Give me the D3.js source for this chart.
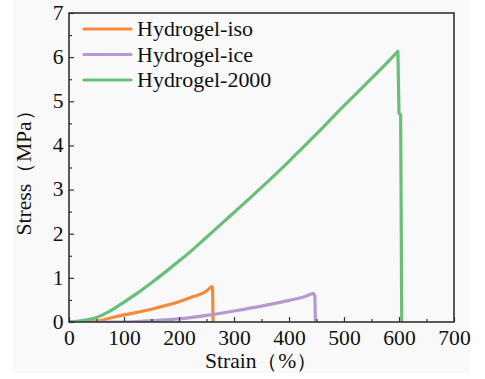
<!DOCTYPE html>
<html><head><meta charset="utf-8">
<script src="https://cdn.jsdelivr.net/npm/d3@7"></script>
<style>body{margin:0;background:#fff}svg{display:block}</style>
</head><body>
<svg id="c" width="485" height="379"></svg>
<script>
const seriesNames = ["Hydrogel-iso", "Hydrogel-ice", "Hydrogel-2000"];
const seriesColors = ["#f58b3a", "#b59ad2", "#6abf78"];
const isoStrain = [0, 50, 75, 100, 125, 150, 175, 200, 225, 250, 259, 261, 262];
const isoStress = [0, 0.02, 0.09, 0.16, 0.22, 0.29, 0.37, 0.46, 0.57, 0.7, 0.8, 0.78, 0];
const iceStrain = [0, 100, 150, 200, 250, 300, 350, 400, 425, 444, 447, 448];
const iceStress = [0, 0, 0.03, 0.07, 0.15, 0.25, 0.36, 0.49, 0.56, 0.65, 0.6, 0];
const g2000Strain = [0, 25, 50, 75, 100, 125, 150, 175, 200, 225, 250, 275, 300, 325, 350, 375, 400, 425, 450, 475, 500, 525, 550, 575, 598, 600, 603, 605];
const g2000Stress = [0, 0.03, 0.1, 0.25, 0.45, 0.66, 0.89, 1.13, 1.38, 1.64, 1.92, 2.2, 2.48, 2.76, 3.05, 3.34, 3.64, 3.95, 4.26, 4.58, 4.9, 5.21, 5.52, 5.83, 6.13, 4.73, 4.7, 0];
const xTicks = [0, 100, 200, 300, 400, 500, 600, 700];
const yTicks = [0, 1, 2, 3, 4, 5, 6, 7];
const xLabel = "Strain（%）";
const yLabel = "Stress（MPa）";

const svg = d3.select("#c");
const m = {l: 69, r: 454, t: 13, b: 322};
const x = d3.scaleLinear().domain([0, 700]).range([m.l, m.r]);
const y = d3.scaleLinear().domain([0, 7]).range([m.b, m.t]);
const axisColor = "#333";
const FONT = "Liberation Serif";
const fs = 20;
const sx = 1.08;

svg.append("rect").attr("x", 13).attr("y", 0).attr("width", 457).attr("height", 373).attr("fill", "#f9f9f9");

const series = [
  {name: seriesNames[0], color: seriesColors[0], xs: isoStrain, ys: isoStress},
  {name: seriesNames[1], color: seriesColors[1], xs: iceStrain, ys: iceStress},
  {name: seriesNames[2], color: seriesColors[2], xs: g2000Strain, ys: g2000Stress}
];
const smooth = d3.line().x(d => x(d[0])).y(d => y(d[1])).curve(d3.curveMonotoneX);
const straight = d3.line().x(d => x(d[0])).y(d => y(d[1]));
svg.append("clipPath").attr("id","clp").append("rect")
  .attr("x", m.l).attr("y", m.t - 5).attr("width", m.r - m.l).attr("height", m.b - m.t + 5);
const g = svg.append("g").attr("clip-path", "url(#clp)");
series.forEach(s => {
  const pts = s.xs.map((v, i) => [v, s.ys[i]]);
  const pk = d3.maxIndex(pts, d => d[1]);
  const rise = pts.slice(0, pk + 1);
  const drop = pts.slice(pk);
  const d = smooth(rise) + straight(drop).replace(/^M/, "L");
  g.append("path").attr("d", d).attr("fill", "none")
    .attr("stroke", s.color).attr("stroke-width", 3.2).attr("stroke-linejoin", "round").attr("stroke-linecap","round");
});

const xAxis = d3.axisBottom(x).tickValues(xTicks).tickSize(-5).tickPadding(9).tickFormat(d3.format("d"));
const xMinor = d3.axisBottom(x).tickValues(d3.range(50, 700, 100)).tickSize(-3).tickFormat("");
const yAxis = d3.axisLeft(y).tickValues(yTicks).tickSize(-5).tickPadding(5).tickFormat(d3.format("d"));
const yMinor = d3.axisLeft(y).tickValues(d3.range(0.5, 7, 1)).tickSize(-3).tickFormat("");

function style(sel){
  sel.select(".domain").remove();
  sel.attr("font-family", FONT).attr("font-size", fs);
  sel.selectAll("line").attr("stroke", axisColor).attr("stroke-width", 1.2);
  sel.selectAll("text").attr("fill", "#111").attr("transform", `scale(${sx},1)`);
}
svg.append("g").attr("transform", `translate(0,${m.b})`).call(xAxis).call(style);
svg.append("g").attr("transform", `translate(0,${m.b})`).call(xMinor).call(style);
svg.append("g").attr("transform", `translate(${m.l},0)`).call(yAxis).call(style);
svg.append("g").attr("transform", `translate(${m.l},0)`).call(yMinor).call(style);

svg.append("rect").attr("x", m.l).attr("y", m.t).attr("width", m.r - m.l).attr("height", m.b - m.t)
  .attr("fill", "none").attr("stroke", axisColor).attr("stroke-width", 1.6);

svg.append("text").attr("transform", `translate(${(m.l + m.r) / 2},368) scale(${sx},1)`).attr("text-anchor", "middle")
  .attr("font-family", FONT).attr("font-size", fs).attr("fill", "#111").text(xLabel);
svg.append("text").attr("transform", `translate(31,${(m.t + m.b) / 2}) rotate(-90) scale(${sx},1)`).attr("text-anchor", "middle")
  .attr("font-family", FONT).attr("font-size", fs).attr("fill", "#111").text(yLabel);

const lg = svg.append("g");
series.forEach((s, i) => {
  const yy = 29 + i * 25.5;
  lg.append("line").attr("x1", 84).attr("x2", 131).attr("y1", yy).attr("y2", yy)
    .attr("stroke", s.color).attr("stroke-width", 3.2).attr("stroke-linecap","round");
  lg.append("text").attr("transform", `translate(137,${yy}) scale(1.1,1)`).attr("dy", "0.35em")
    .attr("font-family", FONT).attr("font-size", fs).attr("fill", "#111").text(s.name);
});
</script>
</body></html>
